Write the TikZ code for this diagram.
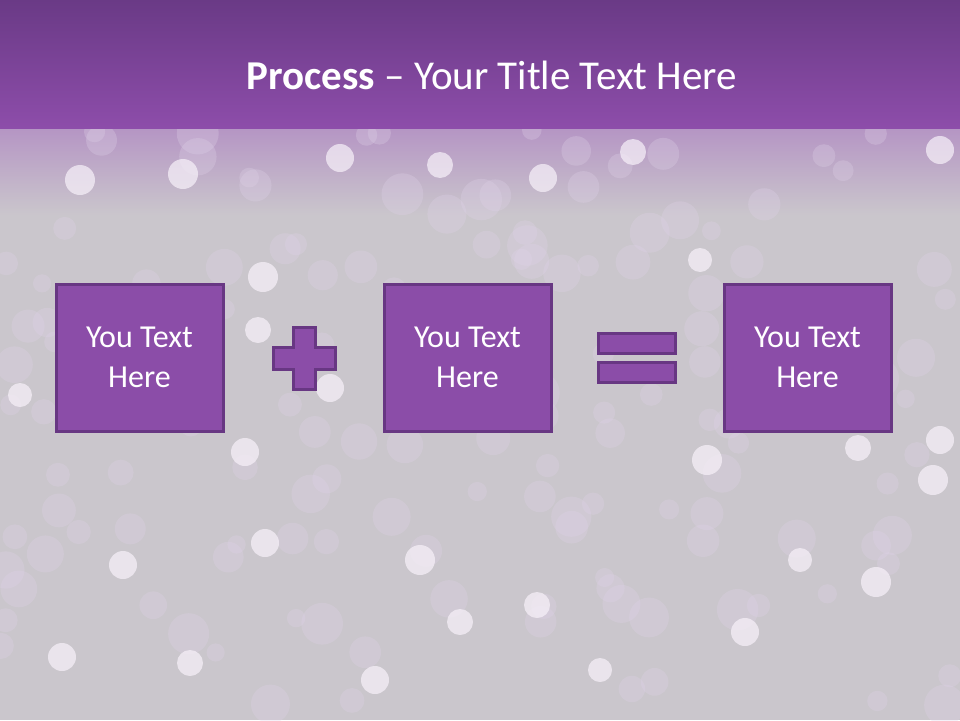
\documentclass[tikz,border=0pt]{standalone}
\usepackage{fontspec}
\setmainfont{Carlito}
\usetikzlibrary{positioning}

\definecolor{boxfill}{HTML}{8B4DA8}
\definecolor{boxline}{HTML}{683783}
\definecolor{bartop}{HTML}{6A3A86}
\definecolor{barbot}{HTML}{8D4DAA}
\definecolor{bggrey}{HTML}{CAC6CC}
\definecolor{bglilac}{HTML}{B595C4}
\definecolor{bokeh}{HTML}{DFD2E8}
\definecolor{bright}{HTML}{F8F2FA}

\tikzset{
  stepbox/.style={draw=boxline, fill=boxfill, line width=3pt,
    minimum width=167pt, minimum height=147pt, align=center,
    text=white, font=\fontsize{32}{40}\selectfont},
  signpart/.style={draw=boxline, fill=boxfill, line width=3pt}
}

\begin{document}
\begin{tikzpicture}[x=1pt, y=-1pt]
    \useasboundingbox (0,0) rectangle (960,720);

    % 1. Nền và thanh tiêu đề
    \fill[bggrey] (0,0) rectangle (960,720);
    \shade[top color=bglilac, bottom color=bggrey] (0,128) rectangle (960,215);
    \begin{scope}
        \clip (0,128) rectangle (960,720);
        \pgfmathsetseed{11}
        \foreach \i in {1,...,140} {
            \pgfmathsetmacro\bx{rnd*960}
            \pgfmathsetmacro\by{130+rnd*590}
            \pgfmathsetmacro\br{9+rnd*12}
            \fill[bokeh, opacity=0.3] (\bx,\by) circle (\br);
        }
        \foreach \bx/\by/\br in {80/180/15, 183/174/15, 340/158/14, 440/165/13,
            543/178/14, 263/277/15, 258/330/13, 330/388/14, 245/452/14,
            707/460/15, 940/440/14, 933/480/15, 123/565/14, 265/543/14,
            420/560/15, 537/605/13, 460/622/13, 62/657/14, 190/663/13,
            375/680/14, 745/632/14, 876/582/15, 858/448/13, 940/150/14,
            633/152/13, 600/670/12, 800/560/12, 700/260/12, 20/395/12}
            \fill[bright, opacity=0.7] (\bx,\by) circle (\br);
    \end{scope}
    \shade[top color=bartop, bottom color=barbot] (0,0) rectangle (960,128);

    % 2. Tiêu đề
    \node[text=white, font=\fontsize{41}{48}\selectfont] (title) at (492,75)
        {\textbf{Process} -- Your Title Text Here};

    % 3. Các ô
    \node[stepbox] (first) at (139.5,357.5) {You Text\\Here};
    \node[stepbox] (second) at (467.5,357.5) {You Text\\Here};
    \node[stepbox] (third) at (807.5,357.5) {You Text\\Here};

    % 4. Dấu cộng và dấu bằng
    \draw[signpart] (293,327) -- (315,327) -- (315,347) -- (335,347)
        -- (335,369) -- (315,369) -- (315,389) -- (293,389) -- (293,369)
        -- (273,369) -- (273,347) -- (293,347) -- cycle;
    \draw[signpart] (598,333) rectangle (675,353);
    \draw[signpart] (598,362) rectangle (675,382);
\end{tikzpicture}
\end{document}
